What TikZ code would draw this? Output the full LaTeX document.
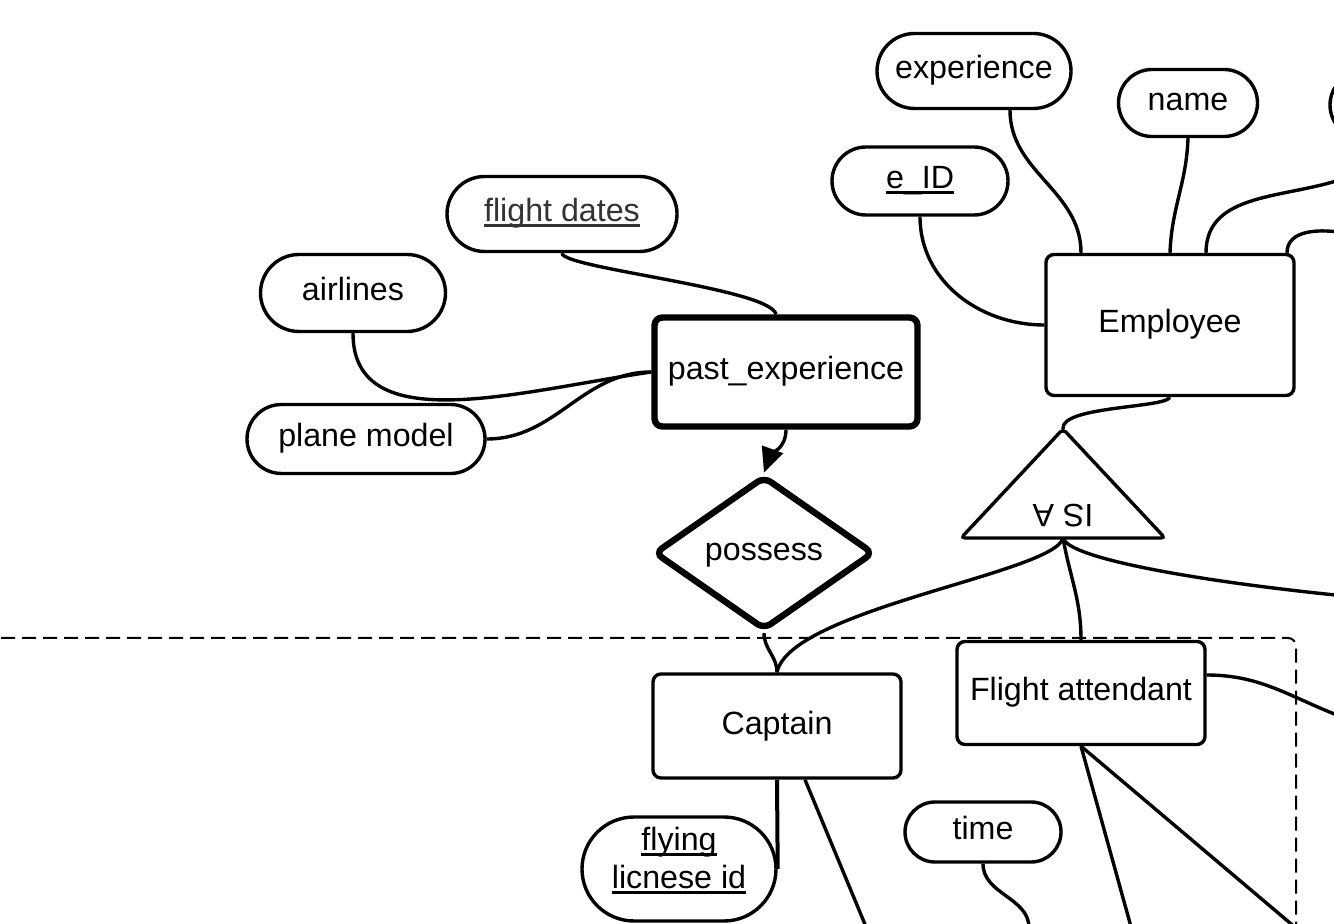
\documentclass[tikz,border=0pt]{standalone}
\usepackage{fontspec}
\setmainfont{Liberation Sans}
\usetikzlibrary{shapes.geometric,shapes.misc,arrows.meta,calc}
\definecolor{dgray}{HTML}{333333}
\newcommand{\myul}[1]{\setbox0\hbox{#1}\rlap{\rule[-2.4pt]{\wd0}{1.2pt}}\box0}
\begin{document}
\begin{tikzpicture}[x=0.5pt,y=-0.5pt,
  every node/.style={font=\fontsize{16.1}{19}\selectfont, inner sep=0pt},
  tx/.style={text height=12pt, text depth=4pt},
  attr/.style={draw, rounded rectangle, line width=1.7pt, fill=white},
  ent/.style={draw, rectangle, rounded corners=4pt, line width=1.7pt, fill=white, tx},
  weakent/.style={ent, line width=3.2pt},
  rel/.style={draw, diamond, aspect=1.5, rounded corners=4pt, line width=3.2pt, fill=white, tx},
  link/.style={line width=1.7pt},
  boundary/.style={line width=1pt, dash pattern=on 7pt off 3.5pt, rounded corners=4pt}]
\useasboundingbox (0,0) rectangle (1334,924);
\clip (0,0) rectangle (1334,924);

% dashed boundary
\draw[boundary] (-20,638) -- (1296,638) -- (1296,950);

% attributes
\node[attr, tx, minimum width=97pt, minimum height=37.5pt] (exp) at (974,71) {experience};
\node[attr, tx, minimum width=69.5pt, minimum height=33.5pt] (name) at (1188,103) {name};
\node[attr, minimum width=70pt, minimum height=33.5pt] (rattr) at (1400,105) {};
\node[attr, tx, minimum width=88pt, minimum height=34pt] (eid) at (920,181) {\myul{e\_ID}};
\node[attr, tx, minimum width=115pt, minimum height=37.5pt, text=dgray] (fd) at (562,214) {\myul{flight dates}};
\node[attr, tx, minimum width=92.5pt, minimum height=38.5pt] (air) at (353,293) {airlines};
\node[attr, tx, minimum width=119pt, minimum height=34.5pt] (pm) at (366,439) {plane model};
\node[attr, tx, minimum width=78pt, minimum height=30pt] (time) at (983,832) {time};
\node[attr, minimum width=97pt, minimum height=52pt, text height=19pt, text depth=17pt] (lic) at (679,869)
  {\begin{tabular}{@{}c@{}}\myul{flying}\\\myul{licnese id}\end{tabular}};

% entities
\node[ent, minimum width=124pt, minimum height=70.5pt] (emp) at (1170,325) {Employee};
\node[weakent, minimum width=131.5pt, minimum height=54.5pt] (pe) at (786,372) {past\_experience};
\node[ent, minimum width=124pt, minimum height=52pt] (cap) at (777,726) {Captain};
\node[ent, minimum width=124pt, minimum height=51.5pt] (fa) at (1081,693) {Flight attendant};

% relationship
\node[rel, minimum width=110pt, minimum height=77pt] (poss) at (764,553) {possess};

% IS A triangle
\coordinate (isatop) at (1063,429);
\coordinate (isabot) at (1063,538);
\draw[line width=1.7pt, rounded corners=2pt, fill=white] (isatop) -- (1165,538) -- (961,538) -- cycle;
\node[rotate=180, tx] (isatxt) at (1063,513) {IS A};

% free ends
\coordinate (r1) at (1345,178);
\coordinate (r2) at (1345,233);
\coordinate (r3) at (1345,596);
\coordinate (r4) at (1345,718);
\coordinate (b1) at (869,934);
\coordinate (b2) at (1133,934);
\coordinate (b3) at (1303,934);
\coordinate (b4) at (1029,928);

% connectors
\draw[link] ($(exp.south)+(36,0)$) to[out=-90,in=90] ($(emp.north)+(-89,0)$);
\draw[link] (name.south) to[out=-92,in=88] (emp.north);
\draw[link] ($(emp.north)+(36,0)$) to[out=90,in=200] (r1);
\draw[link] ($(emp.north)+(117,0)$) to[out=90,in=170] (r2);
\draw[link] (eid.south) to[out=-90,in=180] (emp.west);
\draw[link] (emp.south) .. controls +(-5,11) and +(-3,-23) .. (isatop);
\draw[link] (isabot) .. controls +(-8,35) and +(13,-63) .. (cap.north);
\draw[link] (isabot) to[out=-80,in=90] (fa.north);
\draw[link] (isabot) .. controls +(5,20) and +(-150,-15) .. (r3);
\draw[link] (poss.south) to[out=-90,in=90] (cap.north);
\draw[link, -{Triangle[length=12.5pt,width=11pt]}] (pe.south) to[out=-90,in=70] (poss.north);
\draw[link] (fd.south) .. controls +(0,15) and +(-6,-26) .. ($(pe.north)+(-10,0)$);
\draw[link] (air.south) .. controls +(0,107) and +(-132,19) .. (pe.west);
\draw[link] (pm.east) to[out=0,in=180] (pe.west);
\draw[line width=2pt] (cap.south) -- (lic.east);
\draw[link] ($(cap.south)+(28,0)$) -- (b1);
\draw[link] (fa.south) -- (b2);
\draw[link] (fa.south) -- (b3);
\draw[link] ($(fa.east)+(0,-18)$) to[out=0,in=160] (r4);
\draw[link] (time.south) to[out=-90,in=90] (b4);
\end{tikzpicture}
\end{document}
